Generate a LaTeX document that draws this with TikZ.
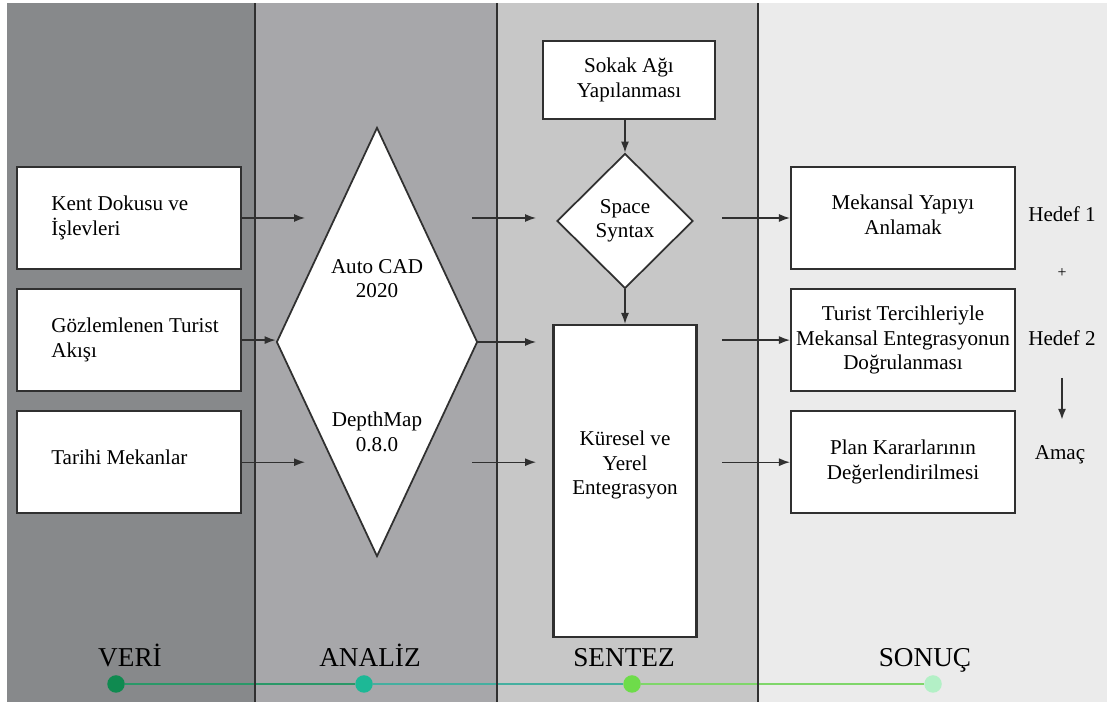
\documentclass[tikz,border=0pt]{standalone}
\usepackage{fontspec}
\setmainfont{Liberation Serif}
\usetikzlibrary{arrows.meta,positioning,shapes.geometric}
\definecolor{veriBg}{HTML}{87898B}
\definecolor{analizBg}{HTML}{A7A7AA}
\definecolor{sentezBg}{HTML}{C7C7C7}
\definecolor{sonucBg}{HTML}{EBEBEB}
\definecolor{boxline}{HTML}{303030}
\definecolor{dotVeri}{HTML}{0F8A50}
\definecolor{dotAnaliz}{HTML}{1DB896}
\definecolor{dotSentez}{HTML}{6EDC4A}
\definecolor{dotSonuc}{HTML}{B3F0C6}
\definecolor{lineA}{HTML}{2A9868}
\definecolor{lineB}{HTML}{45AFA0}
\definecolor{lineC}{HTML}{7FD66A}
\tikzset{
  box/.style={draw=boxline, fill=white, line width=1.2pt, minimum width=4.48cm, minimum height=2.04cm, inner sep=0pt},
  lbl/.style={font=\fontsize{12}{14}\selectfont, align=center, inner sep=0pt},
  decision/.style={diamond, draw=boxline, fill=white, line width=1pt, inner sep=0pt, font=\fontsize{12}{14}\selectfont, align=center},
  arrow/.style={-{Latex[length=2.2mm,width=1.6mm]}, line width=0.75pt, draw=boxline},
  divider/.style={draw=boxline, line width=1.4pt},
  stage/.style={font=\fontsize{15.5}{18}\selectfont, anchor=base, inner sep=0pt},
  dot/.style={circle, minimum size=3.5mm, inner sep=0pt},
  tl/.style={line width=1.2pt}
}

\begin{document}
\begin{tikzpicture}[tag/.style={font=\fontsize{12}{14}\selectfont, inner sep=0pt}]
\useasboundingbox (0,0) rectangle (22.14,14.04);
% ---- stage columns ----
\fill[veriBg] (0.14,0) rectangle (5.10,13.98);
\fill[analizBg] (5.10,0) rectangle (9.94,13.98);
\fill[sentezBg] (9.94,0) rectangle (15.16,13.98);
\fill[sonucBg] (15.16,0) rectangle (22.14,13.98);

% ---- timeline ----
\node[dot, fill=dotVeri] (dVeri) at (2.32,0.36) {};
\node[dot, fill=dotAnaliz] (dAnaliz) at (7.28,0.36) {};
\node[dot, fill=dotSentez] (dSentez) at (12.64,0.36) {};
\node[dot, fill=dotSonuc] (dSonuc) at (18.66,0.36) {};
\draw[tl, lineA] (dVeri) -- (dAnaliz);
\draw[tl, lineB] (dAnaliz) -- (dSentez);
\draw[tl, lineC] (dSentez) -- (dSonuc);
\node[stage] (sVeri) at (2.60,0.70) {VERİ};
\node[stage] (sAnaliz) at (7.40,0.70) {ANALİZ};
\node[stage] (sSentez) at (12.48,0.70) {SENTEZ};
\node[stage] (sSonuc) at (18.50,0.70) {SONUÇ};

\foreach \x in {5.10,9.94,15.16}
  \draw[divider] (\x,0) -- (\x,13.98);

% ---- veri ----
\node[box] (kent) at (2.58,9.68) {};
\node[box, below=0.36cm of kent] (gozlem) {};
\node[box, below=0.36cm of gozlem] (tarihi) {};
\node[lbl, anchor=west, align=left] (kentT) at ([xshift=0.70cm]kent.west) {Kent Dokusu ve\\İşlevleri};
\node[lbl, anchor=west, align=left] (gozlemT) at ([xshift=0.70cm]gozlem.west) {Gözlemlenen Turist\\Akışı};
\node[lbl, anchor=west, align=left] (tarihiT) at ([xshift=0.70cm,yshift=0.10cm]tarihi.west) {Tarihi Mekanlar};

% ---- analiz ----
\node[decision, minimum width=4.02cm, minimum height=8.58cm] (cad) at (7.54,7.20) {};
\node[lbl] (cadT) at (7.54,8.47) {Auto CAD\\2020};
\node[lbl] (depthT) at (7.54,5.40) {DepthMap\\0.8.0};

% ---- sentez ----
\node[box, minimum width=3.44cm, minimum height=1.56cm] (sokak) at (12.58,12.44) {};
\node[lbl] (sokakT) at (sokak) {Sokak Ağı\\Yapılanması};
\node[decision, minimum width=2.72cm, minimum height=2.70cm] (space) at (12.50,9.62) {Space\\Syntax};
\node[box, minimum width=2.86cm, minimum height=6.24cm] (kuresel) at (12.50,4.42) {};
\node[lbl] (kureselT) at (12.50,4.74) {Küresel ve\\Yerel\\Entegrasyon};

% ---- sonuc ----
\node[box] (mek) at (18.06,9.68) {};
\node[box, below=0.36cm of mek] (tur) {};
\node[box, below=0.36cm of tur] (plan) {};
\node[lbl] (mekT) at ([yshift=0.06cm]mek) {Mekansal Yapıyı\\Anlamak};
\node[lbl] (turT) at (tur) {Turist Tercihleriyle\\Mekansal Entegrasyonun\\Doğrulanması};
\node[lbl] (planT) at (plan) {Plan Kararlarının\\Değerlendirilmesi};
\node[tag] (hedef1) at (21.24,9.76) {Hedef 1};
\node[tag, font=\fontsize{9}{10}\selectfont] (arti) at (21.24,8.58) {+};
\node[tag] (hedef2) at (21.24,7.28) {Hedef 2};
\node[tag] (amac) at (21.20,4.94) {Amaç};

% ---- connectors ----
\coordinate (inA) at (6.10,0);
\coordinate (outA) at (9.44,0);
\coordinate (inS) at (10.72,0);
\coordinate (outS) at (14.44,0);
\draw[arrow] (kent.east) -- (kent.east -| inA);
\draw[arrow] (gozlem.east) -- (gozlem.east -| cad.west);
\draw[arrow] (tarihi.east) -- (tarihi.east -| inA);
\draw[arrow] (kent.east -| outA) -- (kent.east -| inS);
\draw[arrow] (cad.east) -- (cad.east -| inS);
\draw[arrow] (tarihi.east -| outA) -- (tarihi.east -| inS);
\draw[arrow] (space.north |- sokak.south) -- (space.north);
\draw[arrow] (space.south) -- (space.south |- kuresel.north);
\draw[arrow] (mek.west -| outS) -- (mek.west);
\draw[arrow] (tur.west -| outS) -- (tur.west);
\draw[arrow] (plan.west -| outS) -- (plan.west);
\draw[arrow, line width=1.1pt, shorten <=0.64cm, shorten >=0.51cm] (hedef2.south) -- (hedef2.south |- amac.north);
\end{tikzpicture}
\end{document}
